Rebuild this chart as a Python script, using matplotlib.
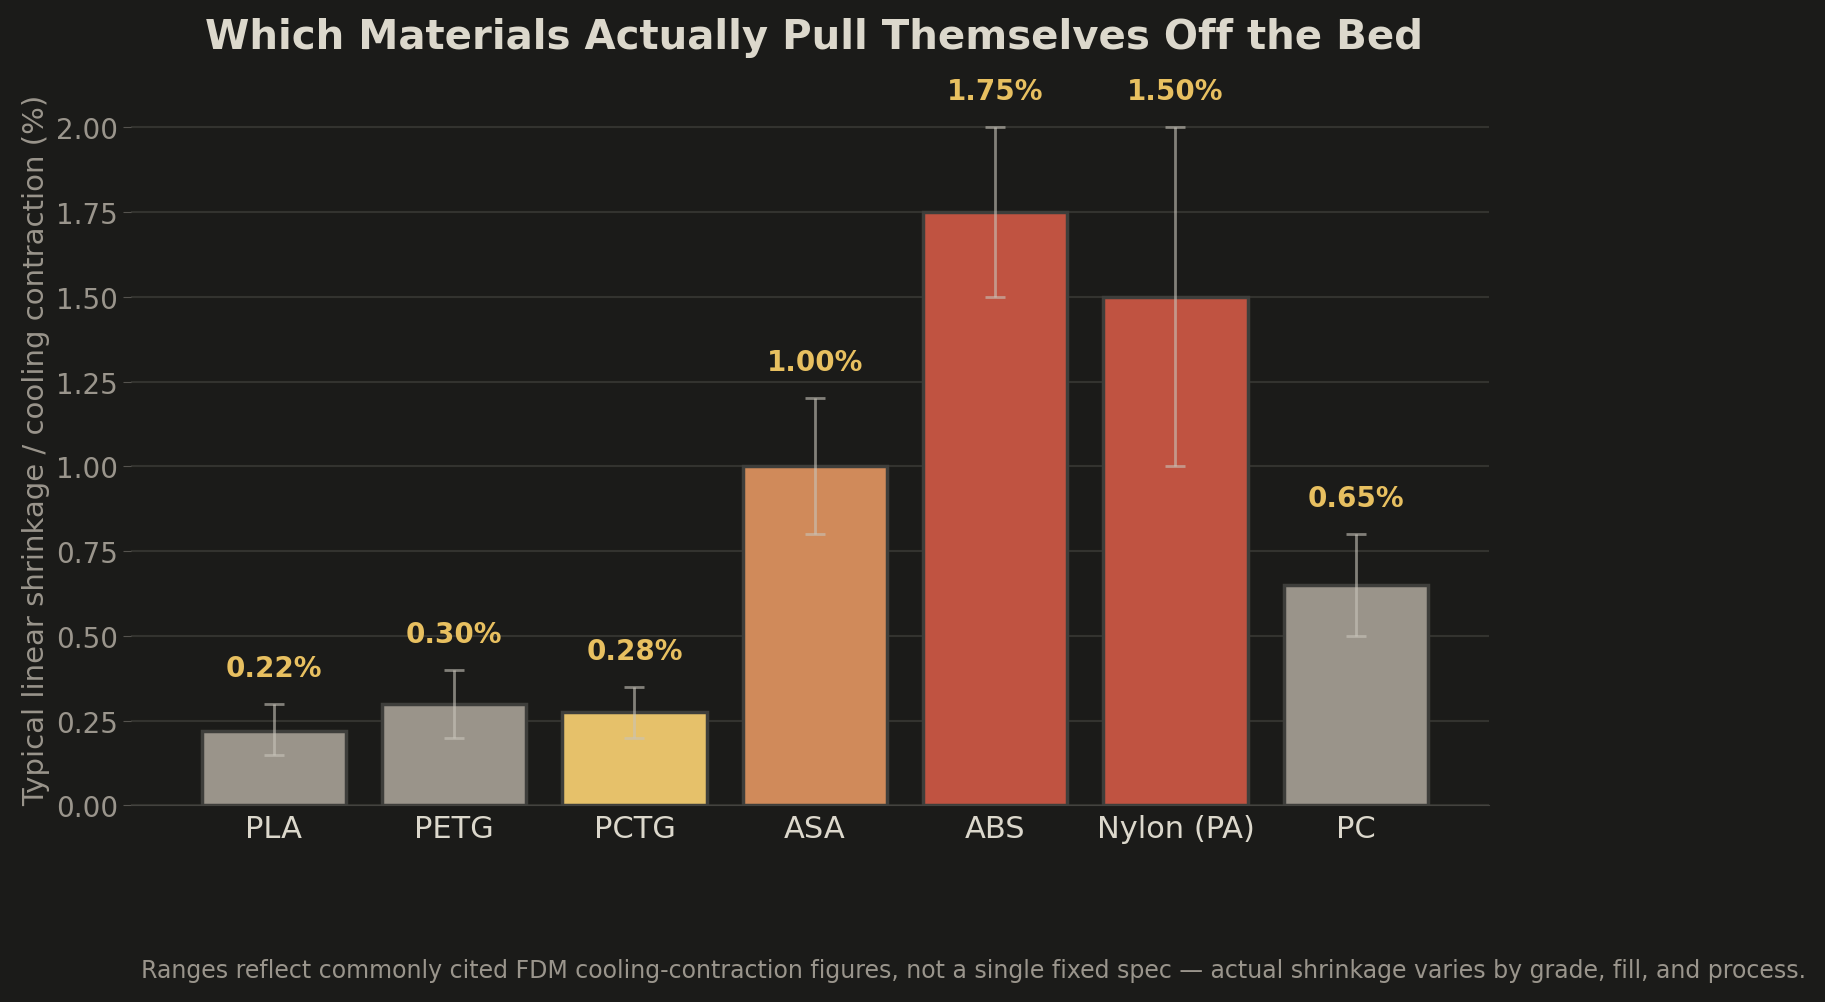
import matplotlib
matplotlib.use('Agg')
import matplotlib.pyplot as plt

materials = ["PLA", "PETG", "PCTG", "ASA", "ABS", "Nylon (PA)", "PC"]
shrinkage = [0.22, 0.30, 0.275, 1.00, 1.75, 1.50, 0.65]
low = [0.15, 0.20, 0.20, 0.80, 1.50, 1.00, 0.50]
high = [0.30, 0.40, 0.35, 1.20, 2.00, 2.00, 0.80]
labels = ["0.22%", "0.30%", "0.28%", "1.00%", "1.75%", "1.50%", "0.65%"]
colors = ["#9a948a", "#9a948a", "#e6c16a", "#d08a5a", "#c05341", "#c05341", "#9a948a"]

BG = "#1b1b19"

fig = plt.figure(figsize=(18.25, 10.03), dpi=100, facecolor=BG)
ax = fig.add_axes([0.072, 0.196, 0.744, 0.71], facecolor=BG)

x = range(len(materials))
yerr = [[s - l for s, l in zip(shrinkage, low)], [h - s for s, h in zip(shrinkage, high)]]
ax.bar(x, shrinkage, width=0.8, color=colors, edgecolor="#3e3e3b", linewidth=2.5, zorder=3)
ax.errorbar(x, shrinkage, yerr=yerr, fmt="none", ecolor="#c8c4ba", alpha=0.6,
            elinewidth=2, capsize=7, capthick=2, zorder=4)
for i, (h, t) in enumerate(zip(high, labels)):
    ax.text(i, h + 0.065, t, ha="center", va="bottom", color="#e8c060",
            fontsize=20, fontweight="bold")

ax.set_ylim(0, 2.1)
ax.set_xlim(-0.79, 6.74)
ax.set_yticks([0, 0.25, 0.5, 0.75, 1.0, 1.25, 1.5, 1.75, 2.0])
ax.set_yticklabels([f"{v:.2f}" for v in ax.get_yticks()])
ax.set_xticks(list(x))
ax.set_xticklabels(materials, fontsize=22, color="#dcd8cc")
ax.tick_params(axis="y", labelsize=20, colors="#9a958c", length=6, color="#55534f")
ax.tick_params(axis="x", length=0, pad=6)
ax.grid(axis="y", color="#33332f", linewidth=1.5, zorder=0)
for s in ["top", "right", "left"]:
    ax.spines[s].set_visible(False)
ax.spines["bottom"].set_color("#44433f")
ax.set_ylabel("Typical linear shrinkage / cooling contraction (%)", fontsize=21, color="#9a958c")

fig.text(0.446, 0.962, "Which Materials Actually Pull Themselves Off the Bed", ha="center",
         va="center", fontsize=29, fontweight="bold", color="#dcd8cc")
fig.text(0.077, 0.032, "Ranges reflect commonly cited FDM cooling-contraction figures, not a single fixed spec — actual shrinkage varies by grade, fill, and process.",
         ha="left", va="center", fontsize=17, color="#9a958c")

fig.savefig("out.png", facecolor=BG)
